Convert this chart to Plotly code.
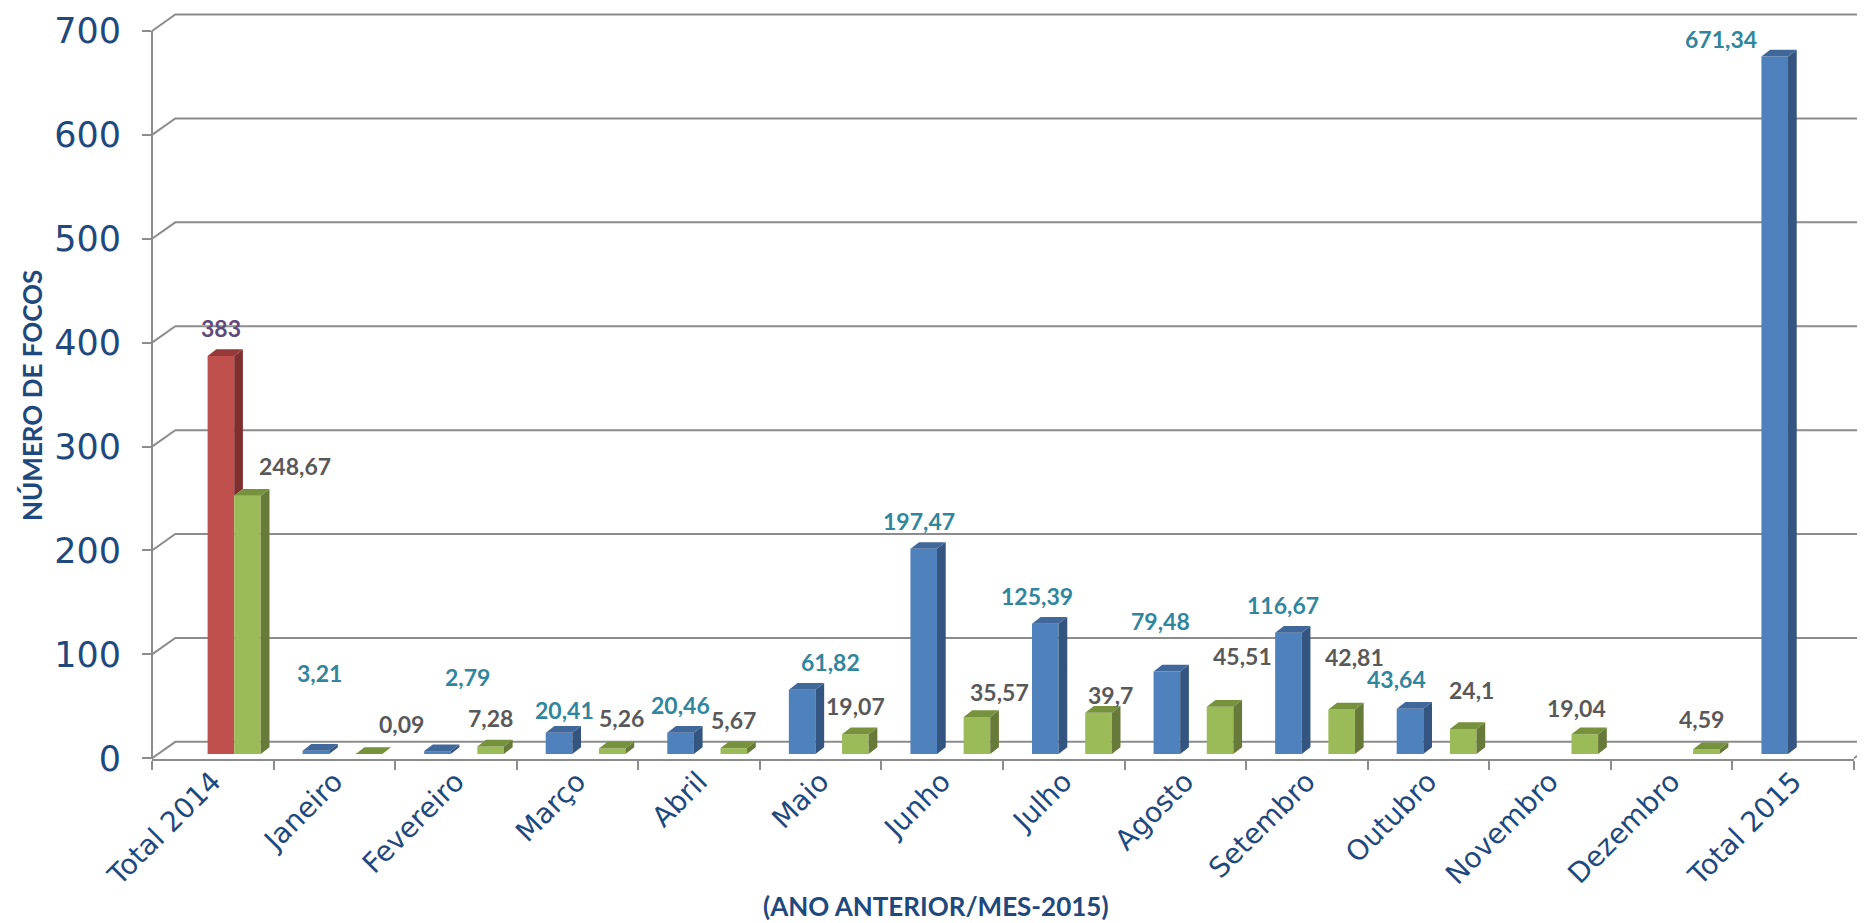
import plotly.graph_objects as go

# ---------------- data ----------------
categories = ["Total 2014", "Janeiro", "Fevereiro", "Março", "Abril", "Maio", "Junho",
              "Julho", "Agosto", "Setembro", "Outubro", "Novembro", "Dezembro", "Total 2015"]
focos_2015 = [None, 3.21, 2.79, 20.41, 20.46, 61.82, 197.47, 125.39, 79.48, 116.67, 43.64,
              None, None, 671.34]
total_2014 = [383, None, None, None, None, None, None, None, None, None, None, None, None, None]
ano_anterior = [248.67, 0.09, 7.28, 5.26, 5.67, 19.07, 35.57, 39.7, 45.51, 42.81, 24.1,
                19.04, 4.59, None]
y_ticks = [0, 100, 200, 300, 400, 500, 600, 700]

# ---------------- layout constants (page pixels) ----------------
PAGE_OFF = 8                       # default body margin of the html page
FIG_W, FIG_H = 1865 - PAGE_OFF, 923 - PAGE_OFF
M_L, M_R, M_T, M_B = 144, 11, 0, 164
PW = FIG_W - M_L - M_R
PH = FIG_H - M_T - M_B
N = len(categories)
X_RANGE = [-0.5, N - 0.5]
PX_X = PW / N                      # pixels per category
PX_Y = 1.039                       # pixels per unit
BASE_PX = 5                        # bar base above the front floor edge
Y_LO = -BASE_PX / PX_Y
Y_HI = Y_LO + PH / PX_Y
FRONT = -4.1                       # front edge offset (units)
BACK = 11.7                        # back wall offset (units)
WALL_DX = 23.3 / PW                # floor depth in paper units

BAR_W = 26.6 / PX_X
SLOT0 = -0.2615
DX = 8.7 / PX_X
DY = 6.7 / PX_Y

GRID = "#8C8C8C"
AXIS_TXT = "#1F497D"
LABEL_LIFT = 28

series = [
    dict(name="2015", vals=focos_2015, front="#4F81BD", side="#34557F", top="#41689A",
         label="#31859C"),
    dict(name="Total 2014", vals=total_2014, front="#C0504D", side="#7F2F2E", top="#953A38",
         label="#604A7B"),
    dict(name="Ano anterior", vals=ano_anterior, front="#9BBB59", side="#677A39", top="#76923C",
         label="#595959"),
]

# label placement nudges (pixels: dx, extra lift), as the spreadsheet placed them
LABEL_NUDGE = {
    ("2015", "Janeiro"): (4, 50), ("2015", "Fevereiro"): (30, 46),
    ("2015", "Março"): (5, -5), ("2015", "Maio"): (28, 0),
    ("2015", "Junho"): (-5, 0), ("2015", "Julho"): (-8, 0),
    ("2015", "Agosto"): (-6, 22), ("2015", "Setembro"): (-5, 0),
    ("2015", "Outubro"): (-14, 2), ("2015", "Total 2015"): (-54, -11),
    ("Ano anterior", "Total 2014"): (48, 2), ("Ano anterior", "Janeiro"): (32, 2),
    ("Ano anterior", "Março"): (9, 3), ("Ano anterior", "Junho"): (23, -3),
    ("Ano anterior", "Julho"): (12, -10), ("Ano anterior", "Agosto"): (22, 23),
    ("Ano anterior", "Setembro"): (13, 25), ("Ano anterior", "Outubro"): (8, 11),
    ("Ano anterior", "Novembro"): (-8, -2), ("Ano anterior", "Dezembro"): (-5, 2),
}


def fmt(v):
    return ("%g" % v).replace(".", ",")


fig = go.Figure()
annotations = []

for k, s in enumerate(series):
    vals = s["vals"]
    nxt = series[k + 1]["vals"] if k + 1 < len(series) else [None] * N
    off = SLOT0 + k * BAR_W
    fig.add_trace(go.Bar(
        x=list(range(N)), y=vals, width=BAR_W, offset=off, name=s["name"],
        marker=dict(color=s["front"], line=dict(width=0)), showlegend=False,
        hoverinfo="skip"))
    sx, sy, tx, ty = [], [], [], []
    for i, v in enumerate(vals):
        if v is None:
            continue
        a = i + off
        b = a + BAR_W
        low = nxt[i] if nxt[i] is not None else 0
        if low < v:
            sx += [b, b + DX, b + DX, b, None]
            sy += [low, low + DY, v + DY, v, None]
        tx += [a, b, b + DX, a + DX, None]
        ty += [v, v, v + DY, v + DY, None]
        ndx, ndy = LABEL_NUDGE.get((s["name"], categories[i]), (0, 0))
        annotations.append(dict(
            x=a + BAR_W / 2, y=v, xref="x", yref="y", text=fmt(v), showarrow=False,
            xanchor="center", yanchor="middle",
            yshift=LABEL_LIFT + ndy, xshift=ndx,
            font=dict(family="Lato", size=23, color=s["label"], weight="bold")))
    fig.add_trace(go.Scatter(x=sx, y=sy, mode="lines", fill="toself", fillcolor=s["side"],
                             line=dict(width=0, color=s["side"]), showlegend=False,
                             hoverinfo="skip"))
    fig.add_trace(go.Scatter(x=tx, y=ty, mode="lines", fill="toself", fillcolor=s["top"],
                             line=dict(width=0, color=s["top"]), showlegend=False,
                             hoverinfo="skip"))

# gridlines on the back wall with perspective slant, floor edges
shapes = []
for v in y_ticks:
    shapes.append(dict(
        type="path", xref="paper", yref="y", layer="below",
        path=f"M 0,{v + FRONT} L {WALL_DX},{v + BACK} L 1.02,{v + BACK}",
        line=dict(color=GRID, width=2)))
shapes.append(dict(type="line", xref="paper", yref="y", layer="below",
                   x0=1, y0=FRONT, x1=1 + WALL_DX, y1=BACK, line=dict(color=GRID, width=2)))
shapes.append(dict(type="line", xref="paper", yref="y2", layer="below",
                   x0=0, y0=Y_LO - FRONT, x1=0, y1=y_ticks[-1], line=dict(color=GRID, width=2)))


def px_to_paper(px, py):
    return (px - PAGE_OFF - M_L) / PW, (FIG_H - M_B - (py - PAGE_OFF)) / PH


tx_, ty_ = px_to_paper(32, 396)
annotations.append(dict(x=tx_, y=ty_, xref="paper", yref="paper", text="NÚMERO DE FOCOS",
                        textangle=-90, showarrow=False, xanchor="center", yanchor="middle",
                        font=dict(family="Lato", size=26, color=AXIS_TXT, weight="bold")))
tx_, ty_ = px_to_paper(936, 906)
annotations.append(dict(x=tx_, y=ty_, xref="paper", yref="paper",
                        text="(ANO ANTERIOR/MES-2015)", showarrow=False,
                        xanchor="center", yanchor="middle",
                        font=dict(family="Lato", size=26, color=AXIS_TXT, weight="bold")))

fig.update_layout(
    width=FIG_W, height=FIG_H, autosize=False,
    margin=dict(l=M_L, r=M_R, t=M_T, b=M_B, pad=0, autoexpand=False),
    plot_bgcolor="white", paper_bgcolor="white",
    barmode="overlay",
    xaxis=dict(range=X_RANGE, tickmode="array", tickvals=list(range(N)), ticktext=categories,
               tickangle=-45, ticks="outside", ticklen=1, tickcolor="rgba(0,0,0,0)",
               ticklabelstandoff=-8, automargin=False,
               tickfont=dict(family="DejaVu Sans", size=28, color=AXIS_TXT),
               showline=True, linecolor=GRID, linewidth=2, showgrid=False, zeroline=False,
               minor=dict(tickmode="array", tickvals=[i - 0.5 for i in range(N + 1)],
                          ticks="outside", ticklen=9, tickwidth=2, tickcolor=GRID,
                          showgrid=False),
               fixedrange=True),
    yaxis=dict(range=[Y_LO, Y_HI], showgrid=False, zeroline=False, showline=False,
               showticklabels=False, ticks="", fixedrange=True, automargin=False),
    yaxis2=dict(range=[Y_LO - FRONT, Y_HI - FRONT], overlaying="y", side="left",
                anchor="x", tickmode="array", tickvals=y_ticks,
                ticktext=[str(t) for t in y_ticks], ticks="outside", ticklen=9, tickwidth=2,
                tickcolor=GRID, ticklabelstandoff=14, automargin=False,
                tickfont=dict(family="DejaVu Sans", size=35, color=AXIS_TXT),
                showgrid=False, zeroline=False, showline=False, fixedrange=True),
    shapes=shapes,
    annotations=annotations,
)

fig.write_html("out.html")
